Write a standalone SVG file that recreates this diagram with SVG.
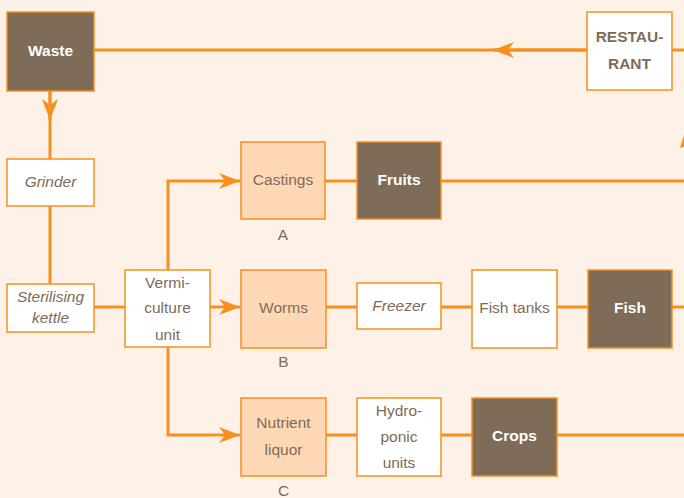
<svg xmlns="http://www.w3.org/2000/svg" width="684" height="498" viewBox="0 0 684 498">
  <style>
    .wire { fill: none; stroke: #F7901E; stroke-width: 3; }
    .box { stroke: #F7901E; stroke-width: 1.5; }
    .dark { fill: #7E6B58; }
    .light { fill: #FED8B4; }
    .plain { fill: #FFFFFF; }
    text { font-family: "Liberation Sans", Arial, sans-serif; font-size: 15.5px; text-anchor: middle; fill: #7E6B58; }
    .bold { font-weight: bold; fill: #FFFFFF; }
    .tag { font-weight: bold; fill: #7E6B58; }
    .it { font-style: italic; }
  </style>
  <defs>
    <marker id="head" markerUnits="userSpaceOnUse" markerWidth="24" markerHeight="20" viewBox="-22 -10 24 20" refX="0" refY="0" orient="auto">
      <path d="M0,0 L-21,-8 L-15,0 L-21,8 Z" fill="#F7901E"/>
    </marker>
  </defs>
  <rect width="684" height="498" fill="#FEF1E7"/>

  <g id="connectors">
    <!-- restaurant back to waste -->
    <line class="wire" x1="587" y1="50" x2="94" y2="50"/>
    <path class="wire" d="M587,50 H493" marker-end="url(#head)"/>
    <line class="wire" x1="672" y1="50" x2="684" y2="50"/>
    <!-- waste down to grinder -->
    <line class="wire" x1="50" y1="91" x2="50" y2="159"/>
    <path class="wire" d="M50,91 V120" marker-end="url(#head)"/>
    <line class="wire" x1="50" y1="206" x2="50" y2="284"/>
    <line class="wire" x1="94" y1="307" x2="125" y2="307"/>
    <!-- vermiculture outputs -->
    <path class="wire" d="M168,270 V181 H240" marker-end="url(#head)"/>
    <path class="wire" d="M210,307 H240" marker-end="url(#head)"/>
    <path class="wire" d="M168,347 V435 H240" marker-end="url(#head)"/>
    <!-- row A -->
    <line class="wire" x1="325" y1="181" x2="357" y2="181"/>
    <line class="wire" x1="441" y1="181" x2="684" y2="181"/>
    <!-- row B -->
    <line class="wire" x1="326" y1="307" x2="357" y2="307"/>
    <line class="wire" x1="441" y1="307" x2="472" y2="307"/>
    <line class="wire" x1="557" y1="307" x2="588" y2="307"/>
    <line class="wire" x1="672" y1="307" x2="684" y2="307"/>
    <!-- row C -->
    <line class="wire" x1="326" y1="435" x2="357" y2="435"/>
    <line class="wire" x1="441" y1="435" x2="472" y2="435"/>
    <line class="wire" x1="557" y1="435" x2="684" y2="435"/>
    <!-- head of a return path at the right edge -->
    <path d="M680,148 L686,128 L687,146 Z" fill="#F7901E"/>
  </g>

  <g id="waste">
    <rect class="box dark" x="7" y="12" width="87" height="79"/>
    <text class="bold" x="50.5" y="56">Waste</text>
  </g>
  <g id="restaurant">
    <rect class="box plain" x="587" y="12" width="85" height="78"/>
    <text class="tag" x="629.5" y="42">RESTAU-</text>
    <text class="tag" x="629.5" y="69">RANT</text>
  </g>
  <g id="grinder">
    <rect class="box plain" x="7" y="159" width="87" height="47"/>
    <text class="it" x="50.5" y="187">Grinder</text>
  </g>
  <g id="kettle">
    <rect class="box plain" x="7" y="284" width="87" height="48"/>
    <text class="it" x="50.5" y="302">Sterilising</text>
    <text class="it" x="50.5" y="323">kettle</text>
  </g>
  <g id="vermiculture">
    <rect class="box plain" x="125" y="270" width="85" height="77"/>
    <text x="167.5" y="288">Vermi-</text>
    <text x="167.5" y="313">culture</text>
    <text x="167.5" y="340">unit</text>
  </g>
  <g id="castings">
    <rect class="box light" x="241" y="142" width="84" height="77"/>
    <text x="283" y="185">Castings</text>
    <text x="283" y="240">A</text>
  </g>
  <g id="fruits">
    <rect class="box dark" x="357" y="142" width="84" height="77"/>
    <text class="bold" x="399" y="185">Fruits</text>
  </g>
  <g id="worms">
    <rect class="box light" x="241" y="270" width="85" height="78"/>
    <text x="283.5" y="313">Worms</text>
    <text x="283.5" y="367">B</text>
  </g>
  <g id="freezer">
    <rect class="box plain" x="357" y="283" width="84" height="46"/>
    <text class="it" x="399" y="311">Freezer</text>
  </g>
  <g id="fish-tanks">
    <rect class="box plain" x="472" y="270" width="85" height="78"/>
    <text x="514.5" y="313">Fish tanks</text>
  </g>
  <g id="fish">
    <rect class="box dark" x="588" y="270" width="84" height="78"/>
    <text class="bold" x="630" y="313">Fish</text>
  </g>
  <g id="nutrient-liquor">
    <rect class="box light" x="241" y="398" width="85" height="78"/>
    <text x="283.5" y="428">Nutrient</text>
    <text x="283.5" y="455">liquor</text>
    <text x="283.5" y="496">C</text>
  </g>
  <g id="hydroponic">
    <rect class="box plain" x="357" y="398" width="84" height="78"/>
    <text x="399" y="416">Hydro-</text>
    <text x="399" y="442">ponic</text>
    <text x="399" y="468">units</text>
  </g>
  <g id="crops">
    <rect class="box dark" x="472" y="398" width="85" height="78"/>
    <text class="bold" x="514.5" y="441">Crops</text>
  </g>
</svg>
